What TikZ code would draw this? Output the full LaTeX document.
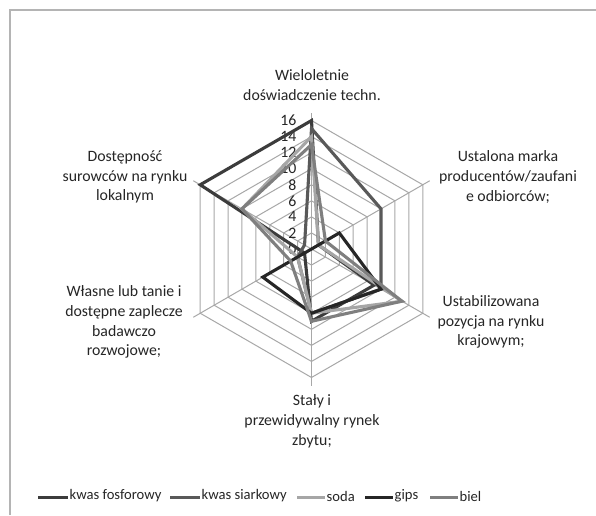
\documentclass[tikz,border=0pt]{standalone}
\usepackage{fontspec}
\setmainfont{Carlito}
\definecolor{framec}{HTML}{B4B4B4}
\definecolor{gridc}{HTML}{A8A8A8}
\definecolor{txtc}{HTML}{262626}
\definecolor{cfos}{HTML}{3C3C3C}
\definecolor{csiar}{HTML}{595959}
\definecolor{csoda}{HTML}{A6A6A6}
\definecolor{cgips}{HTML}{262626}
\definecolor{cbiel}{HTML}{7F7F7F}
\tikzset{
  gridline/.style={draw=gridc, line width=1pt},
  series/.style={line width=3.1pt, line join=miter},
  lab/.style={align=center, text=txtc, inner sep=0pt},
  tick/.style={anchor=east, text=txtc, inner sep=0pt},
  legtxt/.style={anchor=west, text=txtc, inner sep=0pt, font=\fontsize{14.6}{17}\selectfont},
}
\newcommand\uu{8.03}
\begin{document}
\begin{tikzpicture}[x=1pt,y=-1pt,font=\fontsize{15.8}{19.8}\selectfont]
\useasboundingbox (0,0) rectangle (596,515);
\fill[white] (0,0) rectangle (596,515);
\draw[framec, line width=1.6pt] (10,515) -- (10,10) -- (596,10);
\begin{scope}[shift={(311.5,249)}]
  \coordinate (C) at (0,0);
  % rings
  \foreach \r in {2,4,...,16}{
    \draw[gridline] (-90:{\r*\uu}) -- (-30:{\r*\uu}) -- (30:{\r*\uu}) -- (90:{\r*\uu}) -- (150:{\r*\uu}) -- (210:{\r*\uu}) -- cycle;
  }
  % spokes
  \foreach \a/\n in {-90/0,-30/1,30/2,90/3,150/4,210/5}{
    \coordinate (s\n) at (\a:136.5);
    \draw[gridline] (C) -- (s\n);
  }
  % tick labels
  \foreach \r in {0,2,...,16}{
    \node[tick] (t\r) at (-15,{-\r*\uu}) {\r};
  }
  % series: T, UR, LR, B, LL, UL
  \foreach \c/\va/\vb/\vc/\vd/\ve/\vf in {
      cfos/16/1/9/9/1/16,
      csiar/15/10/10/8/2/1,
      csoda/14/1/13/8/2/10,
      cgips/0/4/10/8/7/0,
      cbiel/13/2/13/9/3/10}{
    \draw[series, draw=\c] (-90:{\va*\uu}) -- (-30:{\vb*\uu}) -- (30:{\vc*\uu}) -- (90:{\vd*\uu}) -- (150:{\ve*\uu}) -- (210:{\vf*\uu}) -- cycle;
  }
\end{scope}
% axis labels
\node[lab] (l0) at (312,85) {Wieloletnie\\doświadczenie techn.};
\node[lab] (l1) at (508,177) {Ustalona marka\\producentów/zaufani\\e odbiorców;};
\node[lab] (l2) at (491,322) {Ustabilizowana\\pozycja na rynku\\krajowym;};
\node[lab] (l3) at (312,421) {Stały i\\przewidywalny rynek\\zbytu;};
\node[lab] (l4) at (124,322) {Własne lub tanie i\\dostępne zaplecze\\badawczo\\rozwojowe;};
\node[lab] (l5) at (125,177) {Dostępność\\surowców na rynku\\lokalnym};
% legend
\foreach \xa/\xb/\c/\t/\n in {38/68/cfos/kwas fosforowy/a, 170/200/csiar/kwas siarkowy/b, 297/325/csoda/soda/c, 365/393/cgips/gips/d, 430/458/cbiel/biel/e}{
  \coordinate (la\n) at (\xa,497);
  \coordinate (lb\n) at (\xb,497);
  \draw[draw=\c, line width=3pt] (la\n) -- (lb\n);
  \node[legtxt] (lt\n) at (\xb+1.5,496) {\t};
}
\end{tikzpicture}
\end{document}
